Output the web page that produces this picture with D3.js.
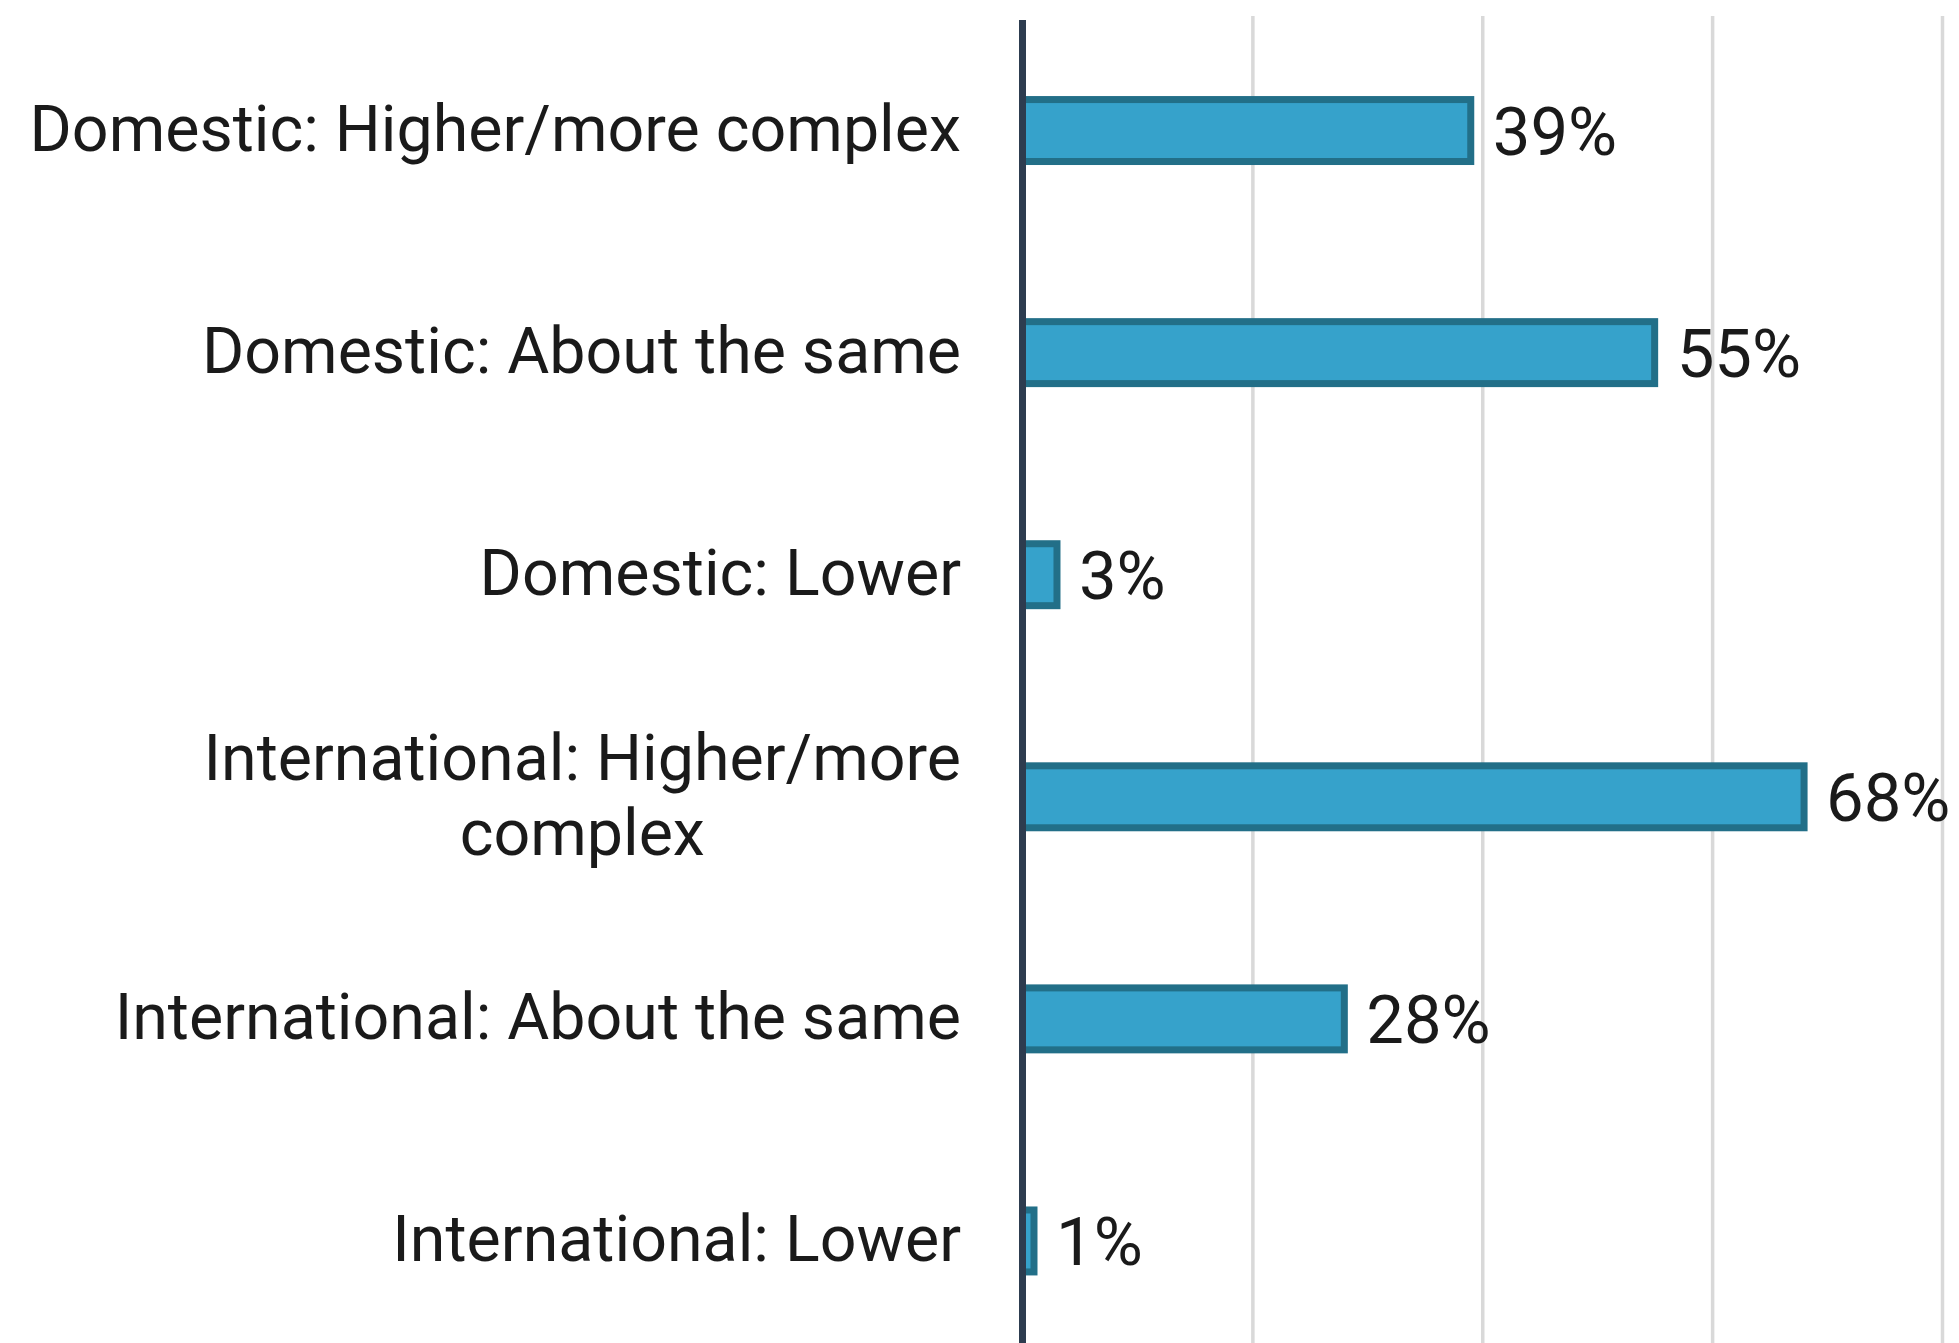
<!DOCTYPE html>
<html>
<head>
<meta charset="utf-8">
<script src="https://cdn.jsdelivr.net/npm/d3@7"></script>
<style>
  html, body { margin: 0; padding: 0; background: #ffffff; }
  svg { display: block; }
</style>
</head>
<body>
<svg id="chart" width="1959" height="1343"></svg>
<script>
const categories = [
  "Domestic: Higher/more complex",
  "Domestic: About the same",
  "Domestic: Lower",
  "International: Higher/more complex",
  "International: About the same",
  "International: Lower"
];
const labelLines = [
  ["Domestic: Higher/more complex"],
  ["Domestic: About the same"],
  ["Domestic: Lower"],
  ["International: Higher/more", "complex"],
  ["International: About the same"],
  ["International: Lower"]
];
const values = [39, 55, 3, 68, 28, 1];
const gridTicks = [20, 40, 60, 80];
const xDomain = [0, 80];

const W = 1959, H = 1343;
const svg = d3.select("#chart");

const x = d3.scaleLinear().domain(xDomain).range([1022.5, 1942]);
const y = d3.scaleBand().domain(categories).range([19.5, 1352])
  .paddingInner(0.721).paddingOuter(0.3605);

const font = "Roboto, 'Noto Sans', sans-serif";

// gridlines
const grid = svg.append("g").attr("transform", `translate(0,16)`)
  .call(d3.axisBottom(x).tickValues(gridTicks).tickSize(H).tickFormat(""));
grid.select(".domain").remove();
grid.selectAll(".tick line").attr("stroke", "#d9d9d9").attr("stroke-width", 3.5);

// bars
svg.append("g").selectAll("rect").data(values).join("rect")
  .attr("x", x(0))
  .attr("y", (d, i) => y(categories[i]))
  .attr("width", d => x(d) - x(0))
  .attr("height", y.bandwidth())
  .attr("fill", "#36a2cb")
  .attr("stroke", "#226f88")
  .attr("stroke-width", 7);

// value labels
svg.append("g").selectAll("text").data(values).join("text")
  .attr("x", d => x(d) + 22)
  .attr("y", (d, i) => y(categories[i]) + y.bandwidth() / 2 + 24)
  .attr("font-family", font)
  .attr("font-size", 67)
  .attr("fill", "#1a1a1a")
  .text(d => d + "%");

// category labels (y axis)
const yAxis = svg.append("g").attr("transform", `translate(${x(0)},0)`)
  .call(d3.axisLeft(y).tickSize(0).tickPadding(0).tickFormat(""));
yAxis.select(".domain")
  .attr("d", `M0,20V${H + 10}`)
  .attr("stroke", "#2d3c4f")
  .attr("stroke-width", 7);

const rightEdge = 961;
const lineH = 75;
const labG = svg.append("g");
categories.forEach((c, i) => {
  const lines = labelLines[i];
  const cy = y(c) + y.bandwidth() / 2;
  const t = labG.append("text")
    .attr("font-family", font)
    .attr("font-size", 64.5)
    .attr("fill", "#1a1a1a")
    .attr("text-anchor", "middle");
  lines.forEach((ln, k) => {
    t.append("tspan")
      .attr("y", cy + 20.5 + (k - (lines.length - 1) / 2) * lineH)
      .text(ln);
  });
  let maxW = 0;
  t.selectAll("tspan").each(function () {
    maxW = Math.max(maxW, this.getComputedTextLength());
  });
  t.selectAll("tspan").attr("x", rightEdge - maxW / 2);
});
</script>
</body>
</html>
